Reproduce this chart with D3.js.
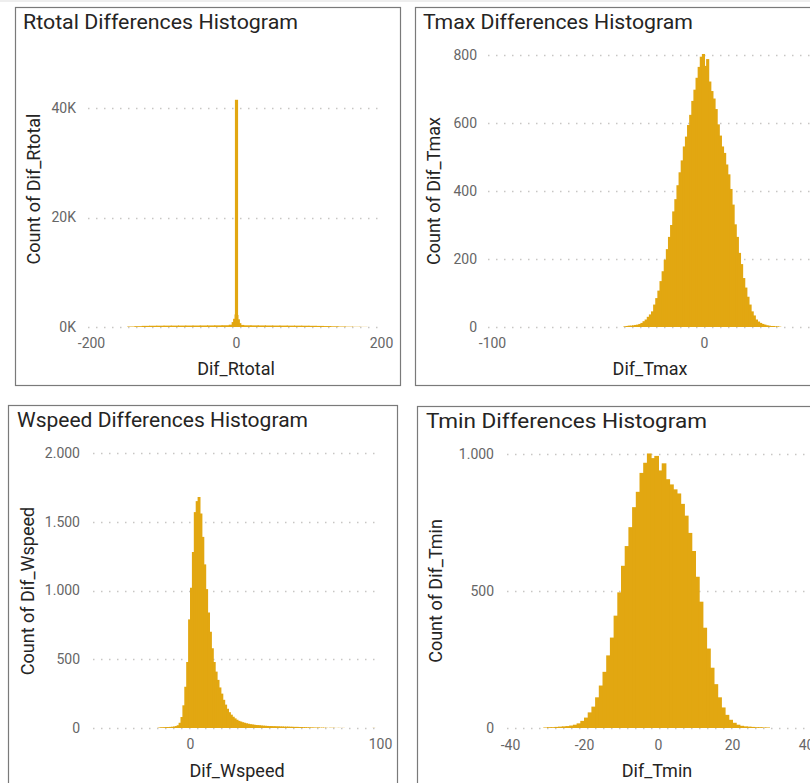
<!DOCTYPE html>
<html>
<head>
<meta charset="utf-8">
<script src="https://cdn.jsdelivr.net/npm/d3@7"></script>
<style>
  body { margin: 0; background: #fff; }
  svg { display: block; font-family: Roboto, "DejaVu Sans", sans-serif; }
</style>
</head>
<body>
<div id="chart"></div>
<script>
// Rtotal: bins of varying width (bin edges), counts per bin
var rtotalEdges = [-150, -140, -130, -120, -110, -100, -90, -80, -70, -60, -50, -40, -30, -20, -10,
    -6, -4, -2, -1.5, 1.5, 2, 4, 6, 10,
    20, 30, 40, 50, 60, 70, 80, 90, 100, 110, 120, 130, 140, 150, 160, 170, 180];
var rtotalCounts = [90, 150, 210, 230, 240, 250, 255, 260, 265, 270, 280, 290, 300, 320,
    420, 900, 1500, 2300, 41500, 2200, 1400, 700, 380,
    310, 295, 285, 275, 265, 260, 250, 245, 235, 220, 200, 170, 130, 90, 60, 40, 25];

// Tmax: bins of width 1, first bin starts at -38
var tmaxStart = -38;
var tmaxCounts = [2, 3, 4, 4, 5, 6, 7, 9, 12, 17,
    22, 30, 37, 46, 66, 85, 107, 135, 164, 198,
    229, 265, 300, 340, 376, 417, 455, 490, 531, 560,
    594, 624, 665, 698, 733, 765, 795, 803, 768, 788,
    722, 694, 672, 641, 596, 563, 531, 512, 478, 449,
    406, 360, 302, 265, 218, 185, 144, 116, 89, 66,
    46, 34, 22, 16, 12, 9, 7, 5, 4, 3,
    3, 2, 2, 1];

// Wspeed: bins of width 1, first bin starts at -17
var wspeedStart = -17;
var wspeedCounts = [3, 5, 5, 6, 7, 7, 8, 9, 11, 14,
    20, 38, 80, 165, 300, 480, 790, 1020, 1280, 1570,
    1650, 1680, 1560, 1390, 1190, 1010, 840, 700, 580, 480,
    410, 350, 295, 250, 205, 170, 140, 115, 97, 82,
    70, 60, 52, 47, 42, 38, 34, 31, 28, 26,
    24, 22, 21, 20, 18, 17, 16, 15, 14, 14,
    13, 13, 12, 12, 11, 11, 10, 10, 10, 9,
    9, 8, 8, 8, 7, 7, 6, 6, 5, 5,
    4, 4, 3, 3, 4, 2, 3, 2, 2, 0,
    2, 1, 2, 0, 1, 1, 0, 1, 0, 0,
    0, 0, 0, 0, 0, 0, 0, 0, 0, 0,
    0, 0, 0, 1];

// Tmin: bins of width 1, first bin starts at -31
var tminStart = -31;
var tminCounts = [2, 3, 3, 4, 5, 6, 7, 9, 12, 17,
    26, 38, 57, 78, 112, 155, 205, 265, 330, 410,
    495, 592, 664, 733, 806, 862, 931, 968, 1002, 985,
    993, 940, 966, 908, 889, 871, 856, 818, 775, 712,
    646, 552, 461, 366, 290, 220, 160, 112, 75, 48,
    30, 19, 12, 8, 6, 5, 4, 3, 3, 2, 2];

// axis ticks and their labels
var rtotalXTicks = [-200, 0, 200];
var rtotalYTicks = [0, 20000, 40000];
var rtotalYLabels = ["0K", "20K", "40K"];
var tmaxXTicks = [-100, 0];
var tmaxYTicks = [0, 200, 400, 600, 800];
var tmaxYLabels = ["0", "200", "400", "600", "800"];
var wspeedXTicks = [0, 100];
var wspeedYTicks = [0, 500, 1000, 1500, 2000];
var wspeedYLabels = ["0", "500", "1.000", "1.500", "2.000"];
var tminXTicks = [-40, -20, 0, 20, 40];
var tminYTicks = [0, 500, 1000];
var tminYLabels = ["0", "500", "1.000"];

var barColor = "#E2A711";

var svg = d3.select("#chart").append("svg")
    .attr("width", 810)
    .attr("height", 783);

// faint strip at the top of the page
svg.append("rect").attr("x", 0).attr("y", 0).attr("width", 810).attr("height", 2).attr("fill", "#eeeeee");

//ビン幅1のヒストグラムを [x0, x1, count] のリストにする
function uniformBins(start, counts) {
    return counts.map(function (c, i) { return [start + i, start + i + 1, c]; });
}

function edgeBins(edges, counts) {
    return counts.map(function (c, i) { return [edges[i], edges[i + 1], c]; });
}

function drawHistogram(p) {
    var g = svg.append("g");

    // panel frame
    g.append("rect")
        .attr("x", p.frame[0] + 0.5).attr("y", p.frame[1] + 0.5)
        .attr("width", p.frame[2]).attr("height", p.frame[3])
        .attr("fill", "#fff").attr("stroke", "#7a7a7a").attr("stroke-width", 1.2);

    // scales
    var xScale = d3.scaleLinear().domain(p.xDomain).range(p.xRange);
    var yScale = d3.scaleLinear().domain(p.yDomain).range(p.yRange);

    // dotted grid
    g.selectAll(".grid")
        .data(p.yTicks)
        .enter()
        .append("line")
        .attr("x1", p.gridX[0]).attr("x2", p.gridX[1])
        .attr("y1", function (d) { return Math.round(yScale(d)) + 0.5; })
        .attr("y2", function (d) { return Math.round(yScale(d)) + 0.5; })
        .attr("stroke", "#c8c6c4")
        .attr("stroke-width", 1.5)
        .attr("stroke-dasharray", "1.5,6.5");

    // bars (a little overlap so that no seams show between neighbours)
    g.selectAll(".bar")
        .data(p.bins)
        .enter()
        .append("rect")
        .attr("x", function (d) { return xScale(d[0]); })
        .attr("width", function (d) { return xScale(d[1]) - xScale(d[0]) + 1; })
        .attr("y", function (d) { return yScale(d[2]); })
        .attr("height", function (d) { return yScale(0) - yScale(d[2]); })
        .attr("fill", barColor);

    // y axis labels
    var yAxis = g.append("g")
        .attr("transform", "translate(" + p.yLabelRight + ",0)")
        .call(d3.axisLeft(yScale)
            .tickValues(p.yTicks)
            .tickFormat(function (d, i) { return p.yLabels[i]; })
            .tickSize(0)
            .tickPadding(0));
    yAxis.select(".domain").remove();
    yAxis.selectAll("text")
        .attr("fill", "#666")
        .style("font-size", "14px")
        .style("font-family", "Roboto, sans-serif");

    // x axis labels
    var xAxis = g.append("g")
        .attr("transform", "translate(0," + p.xLabelTop + ")")
        .call(d3.axisBottom(xScale)
            .tickValues(p.xTicks)
            .tickFormat(d3.format("d"))
            .tickSize(0)
            .tickPadding(0));
    xAxis.select(".domain").remove();
    xAxis.selectAll("text")
        .attr("fill", "#666")
        .style("font-size", "14px")
        .style("font-family", "Roboto, sans-serif")
        .text(function (d) { return String(d).replace("−", "-"); });

    // title
    g.append("text")
        .attr("x", p.title[0]).attr("y", p.title[1])
        .attr("textLength", p.title[2])
        .attr("lengthAdjust", "spacingAndGlyphs")
        .attr("fill", "#252423")
        .style("font-size", "21px")
        .text(p.titleText);

    // axis titles
    g.append("text")
        .attr("x", p.xTitle[0]).attr("y", p.xTitle[1])
        .attr("text-anchor", "middle")
        .attr("fill", "#252423")
        .style("font-size", "18px")
        .text(p.xTitleText);

    g.append("text")
        .attr("transform", "translate(" + p.yTitle[0] + "," + p.yTitle[1] + ") rotate(-90)")
        .attr("text-anchor", "middle")
        .attr("fill", "#252423")
        .style("font-size", "18px")
        .text(p.yTitleText);
}

drawHistogram({
    titleText: "Rtotal Differences Histogram",
    xTitleText: "Dif_Rtotal",
    yTitleText: "Count of Dif_Rtotal",
    bins: edgeBins(rtotalEdges, rtotalCounts),
    xTicks: rtotalXTicks, yTicks: rtotalYTicks, yLabels: rtotalYLabels,
    frame: [15, 7, 385, 378],
    title: [23, 29, 275],
    xDomain: [-200, 200], xRange: [91, 381],
    yDomain: [0, 40000], yRange: [327, 108],
    gridX: [88, 382],
    yLabelRight: 76, xLabelTop: 338,
    xTitle: [236, 375], yTitle: [40, 189]
});

drawHistogram({
    titleText: "Tmax Differences Histogram",
    xTitleText: "Dif_Tmax",
    yTitleText: "Count of Dif_Tmax",
    bins: uniformBins(tmaxStart, tmaxCounts),
    xTicks: tmaxXTicks, yTicks: tmaxYTicks, yLabels: tmaxYLabels,
    frame: [415, 7, 420, 378],
    title: [423, 29, 270],
    xDomain: [-100, 0], xRange: [492, 704],
    yDomain: [0, 800], yRange: [327, 55],
    gridX: [488, 815],
    yLabelRight: 477, xLabelTop: 338,
    xTitle: [650, 375], yTitle: [440, 191]
});

drawHistogram({
    titleText: "Wspeed Differences Histogram",
    xTitleText: "Dif_Wspeed",
    yTitleText: "Count of Dif_Wspeed",
    bins: uniformBins(wspeedStart, wspeedCounts),
    xTicks: wspeedXTicks, yTicks: wspeedYTicks, yLabels: wspeedYLabels,
    frame: [8, 405, 389, 400],
    title: [17, 427, 291],
    xDomain: [0, 100], xRange: [190, 380],
    yDomain: [0, 2000], yRange: [728, 453],
    gridX: [93, 378],
    yLabelRight: 80, xLabelTop: 739,
    xTitle: [237, 777], yTitle: [34, 591]
});

drawHistogram({
    titleText: "Tmin Differences Histogram",
    xTitleText: "Dif_Tmin",
    yTitleText: "Count of Dif_Tmin",
    bins: uniformBins(tminStart, tminCounts),
    xTicks: tminXTicks, yTicks: tminYTicks, yLabels: tminYLabels,
    frame: [417, 406, 420, 400],
    title: [426, 428, 281],
    xDomain: [-40, 40], xRange: [510, 806],
    yDomain: [0, 1000], yRange: [728, 454],
    gridX: [507, 815],
    yLabelRight: 494, xLabelTop: 740,
    xTitle: [657, 777], yTitle: [442, 591]
});
</script>
</body>
</html>
